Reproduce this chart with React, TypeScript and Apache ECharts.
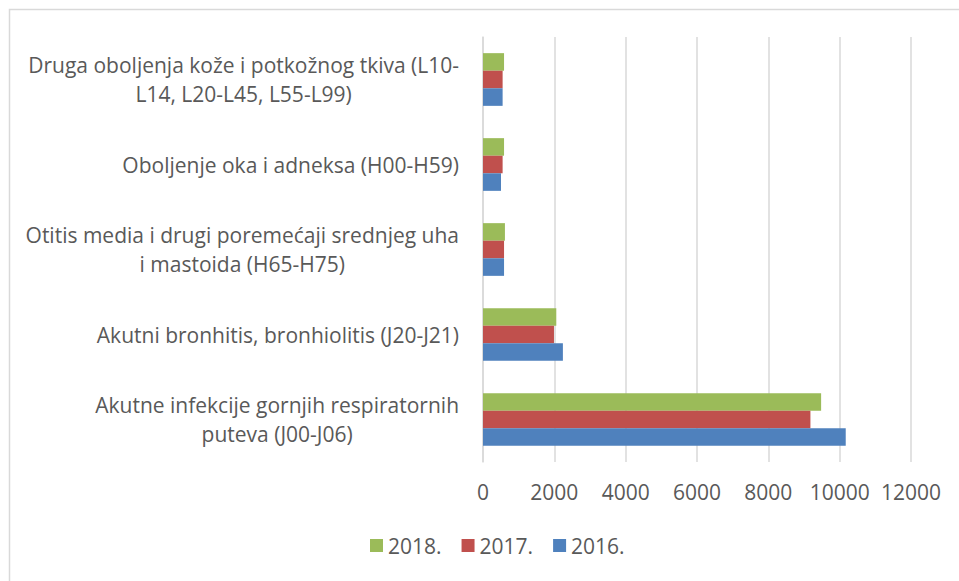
import React, { useEffect, useRef } from "react";
import * as echarts from "echarts";

const categories = [
  "Akutne infekcije gornjih respiratornih\nputeva (J00-J06)",
  "Akutni bronhitis, bronhiolitis (J20-J21)",
  "Otitis media i drugi poremećaji srednjeg uha\ni mastoida (H65-H75)",
  "Oboljenje oka i adneksa (H00-H59)",
  "Druga oboljenja kože i potkožnog tkiva (L10-\nL14, L20-L45, L55-L99)",
];
const values2016 = [10170, 2240, 590, 505, 550];
const values2017 = [9180, 1990, 590, 550, 550];
const values2018 = [9480, 2055, 615, 590, 590];
const seriesNames = ["2018.", "2017.", "2016."];
const xTicks = { min: 0, max: 12000, interval: 2000 };

const FONT = "'Open Sans', 'Liberation Sans', sans-serif";
const TEXT = "#595959";
const FS = 21;

export default function App() {
  const ref = useRef<HTMLDivElement>(null);
  useEffect(() => {
    if (!ref.current) return;
    const chart = echarts.init(ref.current, undefined, { renderer: "svg" });
    const colors = ["#9bbb59", "#c0504d", "#4f81bd"];
    const data = [values2018, values2017, values2016];
    chart.setOption({
      animation: false,
      color: colors,
      textStyle: { fontFamily: FONT, color: TEXT },
      graphic: [
        {
          type: "rect",
          shape: { x: 9.5, y: 9.5, width: 970, height: 600 },
          style: { fill: "none", stroke: "#d9d9d9", lineWidth: 1.5 },
          silent: true,
        },
      ],
      grid: { left: 483, right: 48, top: 37, bottom: 119, containLabel: false },
      legend: {
        data: seriesNames,
        bottom: 20,
        left: 365,
        itemWidth: 13,
        itemHeight: 13,
        itemGap: 20,
        icon: "rect",
        textStyle: { fontFamily: FONT, color: TEXT, fontSize: FS },
      },
      xAxis: {
        type: "value",
        min: xTicks.min,
        max: xTicks.max,
        interval: xTicks.interval,
        axisLine: { show: false },
        axisTick: { show: false },
        splitLine: { lineStyle: { color: "#d9d9d9", width: 1.5 } },
        axisLabel: {
          color: TEXT,
          fontFamily: FONT,
          fontSize: FS,
          margin: 19,
          formatter: (v: number) => String(v),
        },
      },
      yAxis: {
        type: "category",
        data: categories,
        axisLine: { show: true, lineStyle: { color: "#d9d9d9", width: 1.5 } },
        axisTick: { show: false },
        axisLabel: {
          margin: 24,
          formatter: (v: string) => `{c|${v}}`,
          rich: {
            c: {
              align: "center",
              fontFamily: FONT,
              fontSize: FS,
              color: TEXT,
              lineHeight: 29,
            },
          },
        },
      },
      series: seriesNames.map((name, i) => ({
        name,
        type: "bar",
        data: data[i],
        barGap: "0%",
        barCategoryGap: "38%",
        itemStyle: { color: colors[i] },
      })),
    });
    return () => chart.dispose();
  }, []);
  return (
    <div
      ref={ref}
      style={{ position: "fixed", left: 0, top: 0, width: 959, height: 581, background: "#fff" }}
    />
  );
}
